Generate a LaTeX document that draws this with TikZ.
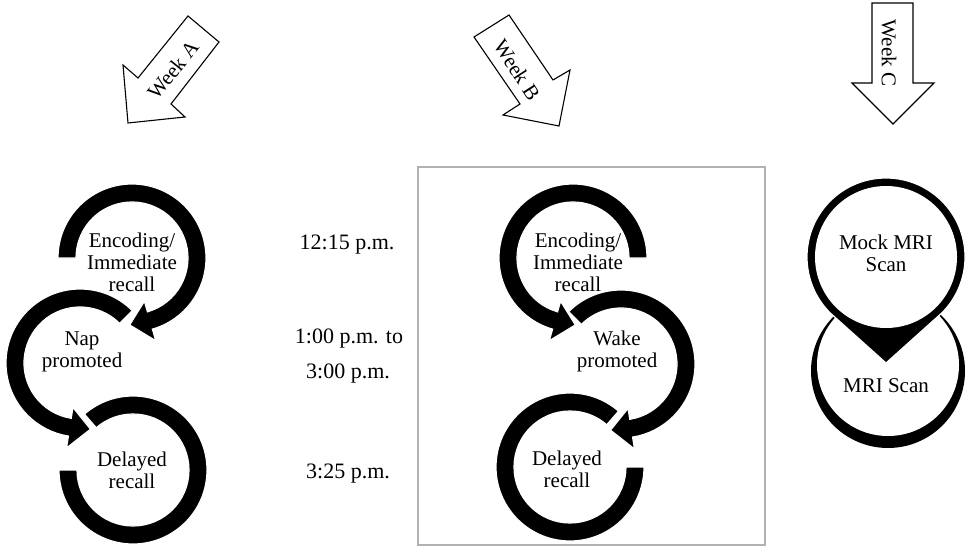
\documentclass[tikz,border=0pt]{standalone}
\usepackage{fontspec}
\setmainfont{Liberation Serif}
\usetikzlibrary{calc}
\def\rOut{74}
\def\rIn{56}
\def\rBarbOut{86}
\def\rBarbIn{45}
\def\rTip{67}
\tikzset{
  ringshape/.style={fill=black, draw=white, line width=1.2pt, line join=miter},
  weekarrow/.style={fill=white, draw=black, line width=1.1pt, line join=miter},
  ringtext/.style={align=center, font=\fontsize{21}{22}\selectfont, inner sep=0pt},
  timetext/.style={anchor=base, font=\fontsize{22}{24}\selectfont, inner sep=0pt},
  weektext/.style={font=\fontsize{21}{22}\selectfont, inner sep=0pt},
  frame/.style={draw=black!30, line width=1.3pt}
}
\newcommand{\ringarrow}[4]{%
  \filldraw[ringshape] ($(#1)+(#2:\rOut)$) arc[start angle=#2, end angle=#3, radius=\rOut]
    -- ($(#1)+(#3:\rBarbOut)$) -- ($(#1)+(#4:\rTip)$) -- ($(#1)+(#3:\rBarbIn)$)
    -- ($(#1)+(#3:\rIn)$) arc[start angle=#3, end angle=#2, radius=\rIn] -- cycle;}
\newcommand{\ringplain}[3]{%
  \filldraw[ringshape] ($(#1)+(#2:\rOut)$) arc[start angle=#2, end angle=#3, radius=\rOut]
    -- ($(#1)+(#3:\rIn)$) arc[start angle=#3, end angle=#2, radius=\rIn] -- cycle;}
\begin{document}
\begin{tikzpicture}[x=1pt, y=1pt]
\useasboundingbox (0,0) rectangle (966,547);
\fill[white] (0,0) rectangle (966,547);

% frame around week B
\draw[frame] (418,2) rectangle (765,380);

% week arrows
\draw[weekarrow] (188,531) -- (219,505) -- (171,443) -- (185,430) -- (128,424) -- (123,482) -- (138,469) -- cycle;
\node[weektext, rotate=51] (wA) at (173,477) {Week A};
\draw[weekarrow] (474,510) -- (509,532) -- (553,467) -- (570,477) -- (559,421) -- (503,432) -- (520,443) -- cycle;
\node[weektext, rotate=-57] (wB) at (517,477) {Week B};
\draw[weekarrow] (872,544) -- (913,544) -- (913,464) -- (934,464) -- (893,423) -- (852,464) -- (872,464) -- cycle;
\node[weektext, rotate=-90] (wC) at (889,494) {Week C};

% centres
\coordinate (A1) at (132,289);
\coordinate (A2) at (80,184);
\coordinate (A3) at (133,77);
\coordinate (B1) at (573,289);
\coordinate (B2) at (621,183);
\coordinate (B3) at (570,80);

% week A rings
\ringplain{A3}{131}{-180}
\ringarrow{A2}{45}{261}{279}
\ringarrow{A1}{180}{-74}{-92}
% week B rings
\ringplain{B3}{49}{360}
\ringarrow{B2}{135}{-81}{-99}
\ringarrow{B1}{0}{254}{272}

% week C circles
\coordinate (C1) at (886,290);
\coordinate (C2) at (888,176);
\coordinate (C2i) at (888,182);
\coordinate (C1tip) at (886,184);
\fill[black] (C2) circle (77);
\fill[white] (C2i) circle (71);
\filldraw[ringshape] ($(C1)+(-45:79)$) arc[start angle=-45, end angle=225, radius=79] -- (C1tip) -- cycle;
\fill[white] (C1) circle (71);

% texts
\node[ringtext] (tA1) at (132,285) {Encoding/\\Immediate\\recall};
\node[ringtext] (tA2) at (82,195) {Nap\\promoted};
\node[ringtext] (tA3) at (132,77) {Delayed\\recall};
\node[ringtext] (tB1) at (578,285) {Encoding/\\Immediate\\recall};
\node[ringtext] (tB2) at (617,196) {Wake\\promoted};
\node[ringtext] (tB3) at (567,78) {Delayed\\recall};
\node[ringtext] (tC1) at (886,294) {Mock MRI\\Scan};
\node[ringtext] (tC2) at (886,161) {MRI Scan};

\node[timetext] (t1) at (347,298) {12:15 p.m.};
\node[timetext] (t2) at (349,204) {1:00 p.m. to};
\node[timetext] (t3) at (348,169) {3:00 p.m.};
\node[timetext] (t4) at (348,69) {3:25 p.m.};
\end{tikzpicture}
\end{document}
